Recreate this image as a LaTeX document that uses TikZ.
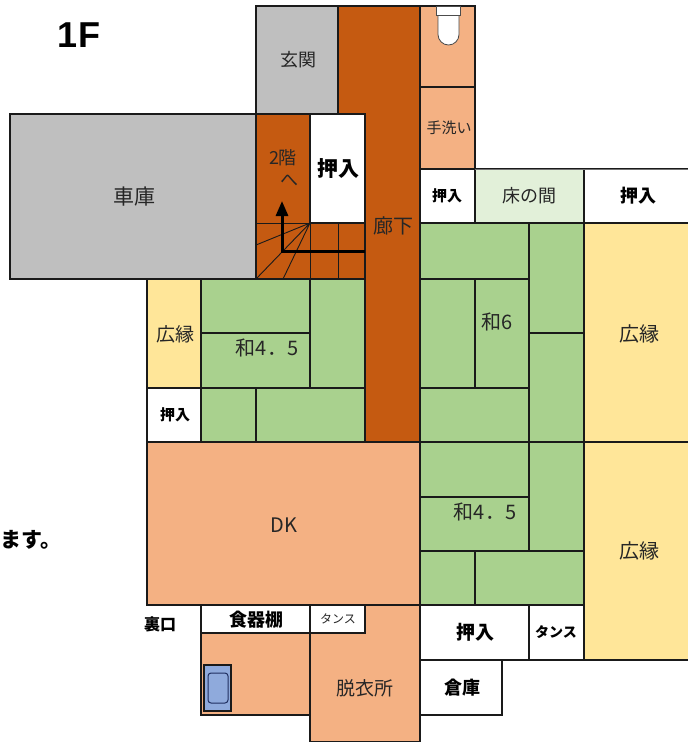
\documentclass[tikz,border=0pt]{standalone}
\usepackage{fontspec}
\setmainfont{Noto Sans CJK JP}
\newfontfamily\latinbold{Liberation Sans}
\usetikzlibrary{arrows.meta}
\definecolor{salmon}{HTML}{F4B183}
\definecolor{hall}{HTML}{C55A11}
\definecolor{stone}{HTML}{BFBFBF}
\definecolor{tatami}{HTML}{A9D18E}
\definecolor{tokonoma}{HTML}{E2F0D9}
\definecolor{veranda}{HTML}{FFE699}
\definecolor{tub}{HTML}{8FAADC}
\definecolor{ink}{HTML}{1A1A1A}
\definecolor{tubline}{HTML}{1F2F60}
\tikzset{
  roomedge/.style={draw=ink,line width=1.2pt},
  lbl/.style={inner sep=0pt,text=black!85},
  blbl/.style={inner sep=0pt,text=black,font=\bfseries},
}
\newcommand{\plan}[6]{%
  \path[roomedge,fill=#6] (#2,#3) rectangle (#4,#5) coordinate (#1-se);
  \coordinate (#1) at ({(#2+#4)/2},{(#3+#5)/2});
}
\newcommand{\tx}[3]{\fontsize{#1}{#1}\selectfont #3}
\begin{document}
\begin{tikzpicture}[x=1pt,y=-1pt]
\useasboundingbox (0,0) rectangle (688,742);
% upper wing
\plan{genkan}{256}{6}{338}{114}{stone}
\plan{garage}{10}{114}{256}{279}{stone}
\plan{toilet}{420}{6}{475}{87}{salmon}
\plan{wash}{420}{87}{475}{169}{salmon}
\plan{oshiA}{420}{169}{475}{223}{white}
\plan{toko}{475}{169}{584}{223}{tokonoma}
\plan{oshiB}{584}{169}{700}{223}{white}
\coordinate (topA) at (475,169);
\coordinate (topB) at (688,169);
\draw[black!55,line width=1pt] (topA) -- (topB);
% corridor and stairs
\path[roomedge,fill=hall] (338,6) -- (420,6) -- (420,442) -- (365,442) -- (365,114) -- (338,114) -- cycle;
\plan{stairs}{256}{114}{365}{279}{hall}
\plan{oshiC}{310}{114}{365}{223}{white}
% stair treads
\coordinate (fan) at (310,223);
\coordinate (treadA) at (256,245);
\coordinate (treadB) at (256,279);
\coordinate (treadC) at (283,279);
\coordinate (treadD) at (338,223);
\coordinate (treadE) at (338,279);
\coordinate (treadF) at (310,279);
\coordinate (treadG) at (256,223);
\draw[roomedge,line width=1pt] (treadG) -- (fan) (fan) -- (treadF) (treadD) -- (treadE);
\draw[draw=ink,line width=.9pt] (fan) -- (treadA) (fan) -- (treadB) (fan) -- (treadC);
\coordinate (runS) at (365,251);
\coordinate (runC) at (282,251);
\coordinate (runE) at (282,201);
\draw[black,line width=3pt,-{Triangle[length=15pt,width=12pt]}] (runS) -- (runC) -- (runE);
% left wing
\plan{enA}{147}{279}{201}{388}{veranda}
\plan{oshiD}{147}{388}{201}{442}{white}
\plan{taA}{201}{279}{310}{333}{tatami}
\plan{taB}{201}{333}{310}{388}{tatami}
\plan{taC}{310}{279}{365}{388}{tatami}
\plan{taD}{201}{388}{256}{442}{tatami}
\plan{taE}{256}{388}{365}{442}{tatami}
% six mat room
\plan{taF}{420}{223}{529}{279}{tatami}
\plan{taG}{529}{223}{584}{333}{tatami}
\plan{taH}{420}{279}{475}{388}{tatami}
\plan{taI}{475}{279}{529}{388}{tatami}
\plan{taJ}{529}{333}{584}{442}{tatami}
\plan{taK}{420}{388}{529}{442}{tatami}
% lower four and a half mat room
\plan{taL}{420}{442}{529}{497}{tatami}
\plan{taM}{529}{442}{584}{551}{tatami}
\plan{taN}{420}{497}{529}{551}{tatami}
\plan{taO}{420}{551}{475}{605}{tatami}
\plan{taP}{475}{551}{584}{605}{tatami}
% verandas
\plan{enB}{584}{223}{700}{442}{veranda}
\plan{enC}{584}{442}{700}{660}{veranda}
% kitchen and below
\plan{dk}{147}{442}{420}{605}{salmon}
\plan{shoki}{201}{605}{310}{633}{white}
\plan{bath}{201}{633}{310}{715}{salmon}
\plan{datsui}{310}{605}{420}{742}{salmon}
\plan{tansuA}{310}{605}{365}{633}{white}
\plan{oshiE}{420}{605}{529}{660}{white}
\plan{tansuB}{529}{605}{584}{660}{white}
\plan{souko}{420}{660}{502}{715}{white}
% bathtub
\plan{tubO}{204}{665}{231}{711}{tub}
\draw[tubline,line width=1pt,rounded corners=3pt,fill=tub] (208,673) rectangle (228,703);
% toilet
\draw[black!70,line width=.8pt,fill=white] (438,15) -- (438,34.5) arc[start angle=180,end angle=0,radius=10.5] -- (459,15) -- cycle;
\draw[black!70,line width=.8pt,fill=white] (436,6) rectangle (460,15);
% labels
\node[blbl] (t1f) at (79,35) {\tx{36}{}{\latinbold\bfseries 1F}};
\node[lbl] (tgen) at (298,60) {\tx{18}{}{玄関}};
\node[lbl] (tcar) at (134,197) {\tx{21}{}{車庫}};
\node[lbl] (tkai) at (283,158) {\tx{18}{}{2階}};
\node[lbl] (the) at (289,181) {\tx{18}{}{へ}};
\node[blbl] (tos1) at (338,169) {\tx{21}{}{押入}};
\node[lbl] (tro) at (393,226) {\tx{20}{}{廊下}};
\node[lbl] (tte) at (449,128) {\tx{15}{}{手洗い}};
\node[blbl] (tos2) at (447,196) {\tx{15}{}{押入}};
\node[lbl] (ttk) at (529,196) {\tx{18}{}{床の間}};
\node[blbl] (tos3) at (638,196) {\tx{18}{}{押入}};
\node[lbl] (thi1) at (175,334) {\tx{19}{}{広縁}};
\node[lbl] (twa1) at (267,348) {\tx{20}{}{和4．5}};
\node[lbl] (twa2) at (497,322) {\tx{20}{}{和6}};
\node[lbl] (thi2) at (639,334) {\tx{20}{}{広縁}};
\node[blbl] (tos4) at (175,415) {\tx{15}{}{押入}};
\node[lbl] (twa3) at (485,512) {\tx{20}{}{和4．5}};
\node[lbl] (thi3) at (639,551) {\tx{20}{}{広縁}};
\node[lbl] (tdk) at (284,525) {\tx{20}{}{DK}};
\node[blbl] (tmas) at (31,540) {\tx{21}{}{ます。}};
\node[blbl] (tur) at (160,624) {\tx{16}{}{裏口}};
\node[blbl] (tsh) at (256,620) {\tx{18}{}{食器棚}};
\node[lbl] (ttn1) at (338,619) {\tx{12}{}{タンス}};
\node[lbl] (tda) at (365,688) {\tx{19}{}{脱衣所}};
\node[blbl] (tos5) at (475,632) {\tx{19}{}{押入}};
\node[blbl] (ttn2) at (556,632) {\tx{14}{}{タンス}};
\node[blbl] (tso) at (462,688) {\tx{18}{}{倉庫}};
\end{tikzpicture}
\end{document}
